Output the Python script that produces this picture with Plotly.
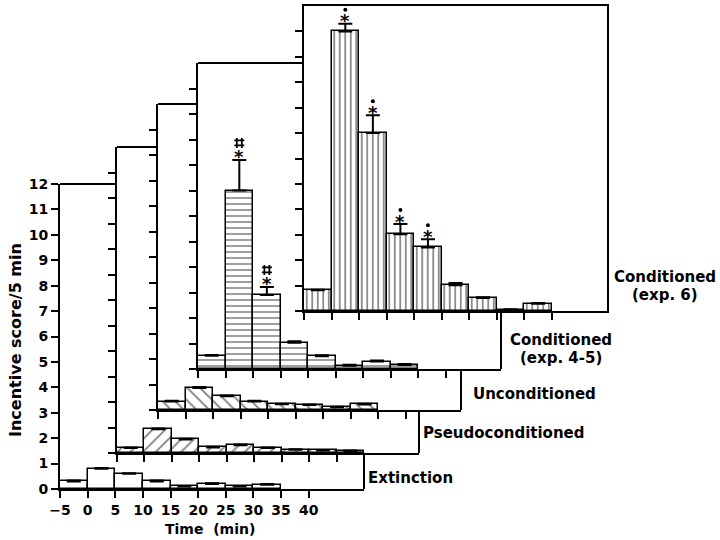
import plotly.graph_objects as go

# ---------------- data ----------------
bin_starts = [-5, 0, 5, 10, 15, 20, 25, 30, 35, 40]
x_tick_vals = [-5, 0, 5, 10, 15, 20, 25, 30, 35, 40]
x_tick_text = ["\u22125", "0", "5", "10", "15", "20", "25", "30", "35", "40"]
y_tick_vals = list(range(13))
y_tick_text = [str(v) for v in y_tick_vals]

extinction = [0.3, 0.8, 0.6, 0.3, 0.1, 0.2, 0.1, 0.17]
extinction_err = [0.03, 0.03, 0.02, 0.03, 0.02, 0.03, 0.02, 0.03]

pseudo = [0.2, 0.93, 0.53, 0.22, 0.3, 0.2, 0.13, 0.1, 0.08]
pseudo_err = [0.02, 0.03, 0.03, 0.03, 0.03, 0.02, 0.02, 0.02, 0.02]

uncond = [0.33, 0.86, 0.54, 0.33, 0.23, 0.2, 0.11, 0.22]
uncond_err = [0.03, 0.04, 0.03, 0.03, 0.02, 0.02, 0.02, 0.03]

cond45 = [0.52, 7.0, 2.9, 1.03, 0.5, 0.13, 0.29, 0.16]
cond45_err = [0.03, 1.2, 0.32, 0.06, 0.04, 0.04, 0.04, 0.04]
cond45_marks = [None, "#", "#", None, None, None, None, None]   # "#" above "*"

cond6 = [0.82, 11.0, 7.0, 3.02, 2.5, 1.01, 0.51, 0.05, 0.29]
cond6_err = [0.02, 0.3, 0.7, 0.4, 0.32, 0.09, 0.03, 0.02, 0.02]
cond6_marks = [None, "dot", "dot", "dot", "dot", None, None, None, None]  # dot above "*"

panel_labels = [["Extinction"], ["Pseudoconditioned"], ["Unconditioned"],
                ["Conditioned", "(exp. 4-5)"], ["Conditioned", "(exp. 6)"]]

series = [extinction, pseudo, uncond, cond45, cond6]
errors = [extinction_err, pseudo_err, uncond_err, cond45_err, cond6_err]
marks = [None, None, None, cond45_marks, cond6_marks]

# ---------------- layout constants ----------------
W, H = 720, 540
FONT = "DejaVu Sans"
# panel boxes in pixels: (left, top, right, bottom)
BOXES = [(60, 184, 364, 489), (117, 147, 419, 453), (158, 104, 461, 410),
         (198, 63, 501, 369), (304, 6, 607, 311)]
PATTERNS = [dict(shape=""), dict(shape="/", size=9, solidity=0.2),
            dict(shape="\\", size=9, solidity=0.2), dict(shape="-", size=6, solidity=0.25),
            dict(shape="|", size=5.5, solidity=0.3)]
LABEL_POS = [(366, [478], "left"), (421, [433], "left"), (471, [394], "left"),
             (561, [340, 358], "center"), (665, [277, 295], "center")]
Y_MAX = 12
MARK_STYLE = {"#": dict(shift_px=17, symbol="hash-open", size=10, lw=1.8),
              "dot": dict(shift_px=14, symbol="circle", size=4, lw=0)}


def px(x):
    return x / W


def py(y):
    return 1 - y / H


fig = go.Figure()
layout = dict(template="none", width=W, height=H, autosize=False,
              margin=dict(l=0, r=0, t=0, b=0, pad=0),
              paper_bgcolor="white", plot_bgcolor="rgba(0,0,0,0)", showlegend=False,
              font=dict(family=FONT, size=14, color="black"), bargap=0)
shapes = []
annotations = []

for i, (vals, errs) in enumerate(zip(series, errors)):
    sfx = "" if i == 0 else str(i + 1)
    l, t, r, b = BOXES[i]
    last = i == len(BOXES) - 1
    layout["xaxis" + sfx] = dict(
        domain=[px(l), px(r)], range=[-5, 50], anchor="y" + sfx, automargin=False,
        showline=True, linewidth=2, linecolor="black", mirror=last,
        ticks="outside", ticklen=7, tickwidth=2, tickcolor="black",
        tickvals=x_tick_vals, ticktext=x_tick_text, showticklabels=(i == 0),
        tickfont=dict(family=FONT, size=14, weight="bold"),
        showgrid=False, zeroline=False, fixedrange=True)
    layout["yaxis" + sfx] = dict(
        domain=[py(b), py(t)], range=[0, Y_MAX], anchor="x" + sfx, automargin=False,
        showline=True, linewidth=2, linecolor="black", mirror=last,
        ticks="outside", ticklen=7, tickwidth=2, tickcolor="black",
        tickvals=y_tick_vals if i == 0 else y_tick_vals[:-1],
        ticktext=y_tick_text if i == 0 else y_tick_text[:-1],
        showticklabels=(i == 0),
        tickfont=dict(family=FONT, size=14, weight="bold"),
        showgrid=False, zeroline=False, fixedrange=True)

    n = len(vals)
    pat = dict(PATTERNS[i])
    if pat["shape"]:
        pat.update(fgcolor="black", bgcolor="white", fillmode="overlay")
    fig.add_trace(go.Bar(
        x=bin_starts[:n], y=vals, width=5, offset=0,
        xaxis="x" + sfx, yaxis="y" + sfx,
        marker=dict(color="white", line=dict(color="black", width=1.5), pattern=pat),
        error_y=dict(type="data", symmetric=False, array=errs, arrayminus=[0] * n,
                     color="black", thickness=2, width=7),
        hoverinfo="skip"))

    # visible parts of the box outline that are not hidden by the next panel
    if not last:
        nl, nt, nr, nb = BOXES[i + 1]
        shapes.append(dict(type="line", xref="paper", yref="paper",
                           x0=px(l), x1=px(nl), y0=py(t), y1=py(t),
                           line=dict(color="black", width=2)))
        shapes.append(dict(type="line", xref="paper", yref="paper",
                           x0=px(r), x1=px(r), y0=py(nb), y1=py(b),
                           line=dict(color="black", width=2)))

    # significance marks: "*" as text, "#"/dot above it as markers
    if marks[i]:
        units_per_px = Y_MAX / (b - t)
        for kind in MARK_STYLE:
            st = MARK_STYLE[kind]
            idx = [k for k, m in enumerate(marks[i]) if m == kind]
            if not idx:
                continue
            fig.add_trace(go.Scatter(
                x=[bin_starts[k] + 2.5 for k in idx],
                y=[vals[k] + errs[k] + st["shift_px"] * units_per_px for k in idx],
                mode="markers", xaxis="x" + sfx, yaxis="y" + sfx, hoverinfo="skip",
                marker=dict(symbol=st["symbol"], size=st["size"], color="black",
                            line=dict(color="black", width=st["lw"]))))
        for k, m in enumerate(marks[i]):
            if not m:
                continue
            annotations.append(dict(x=bin_starts[k] + 2.5, y=vals[k] + errs[k],
                                    xref="x" + sfx, yref="y" + sfx,
                                    text="*", showarrow=False, yanchor="middle",
                                    yshift=3, font=dict(family=FONT, size=18, weight="bold")))

    # panel label
    lx, lys, anc = LABEL_POS[i]
    for line_text, ly in zip(panel_labels[i], lys):
        annotations.append(dict(x=px(lx), y=py(ly), xref="paper", yref="paper",
                                text=line_text, showarrow=False, xanchor=anc, yanchor="middle",
                                font=dict(family=FONT, size=15, weight="bold")))

# axis titles
annotations.append(dict(x=px(15), y=py(340), xref="paper", yref="paper",
                        text="Incentive score/5 min", textangle=-90, showarrow=False,
                        xanchor="center", yanchor="middle",
                        font=dict(family=FONT, size=16, weight="bold")))
annotations.append(dict(x=px(210), y=py(529), xref="paper", yref="paper",
                        text="Time  (min)", showarrow=False, xanchor="center", yanchor="middle",
                        font=dict(family=FONT, size=14, weight="bold")))

layout["shapes"] = shapes
layout["annotations"] = annotations
fig.update_layout(**layout)
fig.write_html("out.html", config={"displayModeBar": False},
               post_script="document.body.style.margin='0';document.body.style.padding='0';")
